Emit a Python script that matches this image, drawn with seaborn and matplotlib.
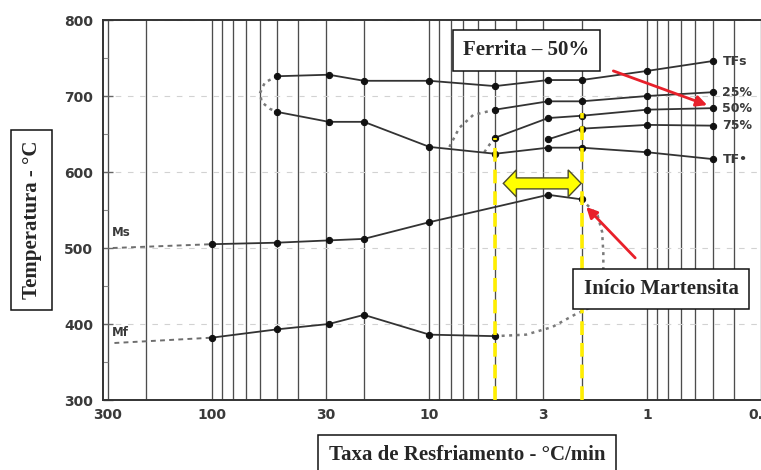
import matplotlib
matplotlib.use("Agg")
import matplotlib.pyplot as plt
import matplotlib.ticker as mticker
from matplotlib.patches import Polygon
from matplotlib.transforms import IdentityTransform
import numpy as np
import pandas as pd
import seaborn as sns

# ---- CCT diagram data: cooling rate (°C/min) vs temperature (°C) ----
tfs_rate = [50, 29, 20, 10, 5, 2.85, 2, 1, 0.5]
tfs_temp = [726, 728, 720, 720, 713, 721, 721, 733, 746]

f25_rate = [5, 2.85, 2, 1, 0.5]
f25_temp = [682, 693, 693, 700, 705]

f50_rate = [5, 2.85, 2, 1, 0.5]
f50_temp = [645, 671, 674, 682, 684]

f75_rate = [2.85, 2, 1, 0.5]
f75_temp = [643, 657, 662, 661]

tfe_rate = [50, 29, 20, 10, 5, 2.85, 2, 1, 0.5]
tfe_temp = [679, 666, 666, 633, 624, 632, 632, 626, 617]

ms_rate = [100, 50, 29, 20, 10, 2.85, 2]
ms_temp = [505, 507, 510, 512, 534, 570, 564]

mf_rate = [100, 50, 29, 20, 10, 5]
mf_temp = [382, 393, 400, 412, 386, 384]

# estimated (dotted) boundaries
nose_rate = [50, 57, 60, 59, 54, 50]
nose_temp = [726, 718, 704, 692, 683, 679]

f25_est_rate = [5, 6.3, 7.3, 8.1]
f25_est_temp = [682, 675, 658, 633]

f50_est_rate = [5, 5.3, 5.6]
f50_est_temp = [645, 636, 626]

ms_est_rate = [285, 100]
ms_est_temp = [500, 505]

mf_est_rate = [280, 100]
mf_est_temp = [375, 382]

mart_est_rate = [2, 1.69, 1.61, 1.59, 1.59, 1.66, 1.85, 2.16, 2.73, 3.6, 5]
mart_est_temp = [564, 543, 521, 493, 464, 438, 421, 412, 396, 386, 384]

# curve labels at the slow-cooling end
end_labels = ["TFs", "25%", "50%", "75%", "TF\u2022"]
end_label_temp = [746, 705, 684, 661, 617]

# highlighted window between 5 and 2 °C/min
window_rate = [5, 2]
window_top = [645, 677]
span_rate = [4.58, 2.01]
span_temp = 585

x_ticks = [300, 100, 30, 10, 3, 1, 0.3]
x_ticklabels = ["300", "100", "30", "10", "3", "1", "0.3"]
y_ticks = [300, 400, 500, 600, 700, 800]

sns.set_theme(style="white")
plt.rcParams["font.family"] = ["DejaVu Sans"]

fig = plt.figure(figsize=(7.61, 4.70), dpi=100)
ax = fig.add_axes([103 / 761, 70 / 470, 658 / 761, 380 / 470])
ax.set_xscale("log")
ax.set_xlim(316, 0.3)
ax.set_ylim(300, 800)

line_kw = dict(color="#333333", linewidth=1.3, marker="o", markersize=4.5,
               markerfacecolor="#111111", markeredgecolor="#111111",
               sort=False, estimator=None, ax=ax, zorder=4)
dot_kw = dict(color="#7a7a7a", linewidth=1.8, linestyle=(0, (1.2, 1.8)),
              sort=False, estimator=None, ax=ax, zorder=3)
dash_kw = dict(color="#6e6e6e", linewidth=1.4, linestyle=(0, (2.5, 2.2)),
               sort=False, estimator=None, ax=ax, zorder=3)

for r, t in [(tfs_rate, tfs_temp), (f25_rate, f25_temp), (f50_rate, f50_temp),
             (f75_rate, f75_temp), (tfe_rate, tfe_temp), (ms_rate, ms_temp),
             (mf_rate, mf_temp)]:
    sns.lineplot(x=r, y=t, **line_kw)

for r, t in [(nose_rate, nose_temp), (f25_est_rate, f25_est_temp),
             (f50_est_rate, f50_est_temp), (mart_est_rate, mart_est_temp)]:
    sns.lineplot(x=r, y=t, **dot_kw)

for r, t in [(ms_est_rate, ms_est_temp), (mf_est_rate, mf_est_temp)]:
    sns.lineplot(x=r, y=t, **dash_kw)

# grid: vertical log grid, faint horizontal dashes
ax.xaxis.set_major_locator(mticker.FixedLocator(x_ticks))
ax.xaxis.set_major_formatter(mticker.FixedFormatter(x_ticklabels))
ax.xaxis.set_minor_locator(mticker.LogLocator(base=10, subs=np.arange(1, 10)))
ax.xaxis.set_minor_formatter(mticker.NullFormatter())
ax.grid(False)
ax.grid(True, which="both", axis="x", color="#4d4d4d", linewidth=0.95, zorder=1)
ax.yaxis.grid(True, which="major", color="#d2d2d2", linewidth=0.8,
              linestyle=(0, (5, 6)))
ax.set_axisbelow(True)

ax.set_yticks(y_ticks)
ax.yaxis.set_minor_locator(mticker.MultipleLocator(50))
ax.tick_params(axis="y", which="major", direction="in", length=7, width=1,
               color="#666666", pad=7, labelsize=10, labelcolor="#3a3a3a",
               left=True)
ax.tick_params(axis="y", which="minor", direction="in", length=3.5, width=0.8,
               color="#888888", left=True)
ax.tick_params(axis="x", which="both", length=0, pad=6, labelsize=10,
               labelcolor="#3a3a3a")
for lab in ax.get_xticklabels() + ax.get_yticklabels():
    lab.set_fontweight("bold")

for side in ["left", "bottom", "top"]:
    ax.spines[side].set_color("#333333")
    ax.spines[side].set_linewidth(1.4)
ax.spines["right"].set_visible(False)
ax.set_xlabel("")
ax.set_ylabel("")

# curve labels
for lab, t in zip(end_labels, end_label_temp):
    ax.annotate(lab, xy=(0.5, t), xytext=(7, 0), textcoords="offset points",
                ha="left", va="center", fontsize=9, fontweight="bold",
                color="#3a3a3a", annotation_clip=False)
ax.text(288, 521, "Ms", fontsize=8.5, fontweight="bold", color="#3a3a3a",
        ha="left", va="center")
ax.text(288, 389, "Mf", fontsize=8.5, fontweight="bold", color="#3a3a3a",
        ha="left", va="center")

# highlighted cooling-rate window
ax.vlines(window_rate, [300, 300], window_top, colors="#ffee00", linewidth=2.6,
          linestyles=(0, (3.8, 2.2)), zorder=6)

x0, y0 = ax.transData.transform((span_rate[0], span_temp))
x1, _ = ax.transData.transform((span_rate[1], span_temp))
hl, hw, sw = 13, 13.5, 5.5
arrow_pts = [(x0, y0), (x0 + hl, y0 + hw), (x0 + hl, y0 + sw), (x1 - hl, y0 + sw),
             (x1 - hl, y0 + hw), (x1, y0), (x1 - hl, y0 - hw), (x1 - hl, y0 - sw),
             (x0 + hl, y0 - sw), (x0 + hl, y0 - hw)]
ax.add_patch(Polygon(arrow_pts, closed=True, facecolor="#ffff00",
                     edgecolor="#4d4d2a", linewidth=1.0,
                     transform=IdentityTransform(), zorder=7))

# annotations
box_kw = dict(boxstyle="square,pad=0.5", facecolor="white", edgecolor="#111111",
              linewidth=1.1)
serif = ["Liberation Serif", "DejaVu Serif"]
ax.text(3.59, 760, "Ferrita \u2013 50%", family=serif, fontsize=15,
        fontweight="bold", ha="center", va="center", bbox=box_kw, zorder=10)
ax.text(0.863, 446, "In\u00edcio Martensita", family=serif, fontsize=15,
        fontweight="bold", ha="center", va="center", bbox=box_kw, zorder=10)

arrow_kw = dict(arrowstyle="-|>", color="#e8202a", linewidth=2.0,
                mutation_scale=16, shrinkA=0, shrinkB=0)
ax.annotate("", xy=(0.53, 688), xytext=(1.43, 733), arrowprops=arrow_kw,
            zorder=9)
ax.annotate("", xy=(1.905, 554), xytext=(1.135, 487), arrowprops=arrow_kw,
            zorder=9)

fig.text(31.5 / 761, 1 - 220 / 470, "Temperatura - \u00b0C", family=serif,
         fontsize=15, fontweight="bold", rotation=90, ha="center", va="center",
         bbox=box_kw)
fig.text(467 / 761, 1 - 455 / 470, "Taxa de Resfriamento - \u00b0C/min",
         family=serif, fontsize=15, fontweight="bold", ha="center",
         va="center", bbox=box_kw)

fig.savefig("out.png", dpi=100)
